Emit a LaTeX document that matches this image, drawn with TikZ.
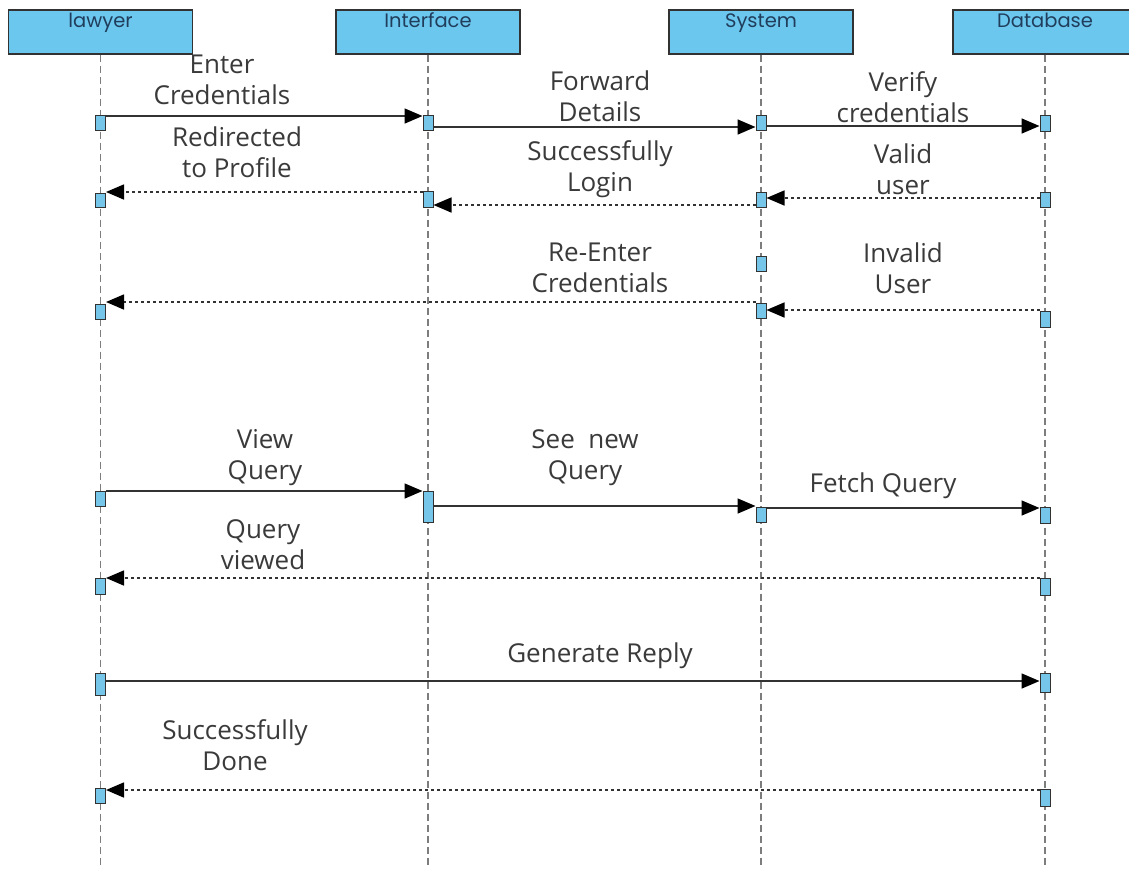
\documentclass[tikz,border=0pt]{standalone}
\usepackage{fontspec}
\setmainfont{Open Sans}
\newfontfamily\headfont{Poppins}
\usetikzlibrary{arrows.meta}
\definecolor{headblue}{RGB}{108,199,239}
\definecolor{actblue}{RGB}{118,198,234}
\definecolor{headtext}{RGB}{32,62,92}
\definecolor{linegray}{RGB}{50,50,50}
\definecolor{lifegray}{RGB}{125,125,125}
\definecolor{labeltext}{RGB}{58,58,58}
\tikzset{
  header/.style={draw=linegray, line width=1.2pt, fill=headblue,
    minimum width=184pt, minimum height=44pt, inner sep=0pt},
  headlbl/.style={text=headtext, inner sep=0pt, font=\headfont\fontsize{19.5}{22}\selectfont},
  act/.style={draw=linegray, line width=1pt, fill=actblue,
    minimum width=10pt, inner sep=0pt},
  lifeline/.style={lifegray, line width=1.4pt, dash pattern=on 7pt off 4pt},
  call/.style={linegray, line width=1.6pt, -{Triangle[length=18pt,width=15pt,color=black]}},
  reply/.style={call, dash pattern=on 3pt off 3pt},
  lbl/.style={align=center, text=labeltext, inner sep=0pt, font=\fontsize{26}{31}\selectfont},
}
\begin{document}
\begin{tikzpicture}[x=1pt, y=-1pt]
  \useasboundingbox[fill=white] (0,0) rectangle (1129,868);
  \coordinate (bottom) at (0,868);
  \node[header] (lawyer) at (100.5,32) {};
  \node[header] (iface) at (428,32) {};
  \node[header] (system) at (761,32) {};
  \node[header] (dbase) at (1045,32) {};
  \node[headlbl, anchor=base] (lawyerT) at ([yshift=-18pt]lawyer.north) {lawyer};
  \node[headlbl, anchor=base] (ifaceT) at ([yshift=-18pt]iface.north) {Interface};
  \node[headlbl, anchor=base] (systemT) at ([yshift=-18pt]system.north) {System};
  \node[headlbl, anchor=base] (dbaseT) at ([yshift=-18pt]dbase.north) {Database};
  \draw[lifeline] (lawyer.south) -- (lawyer.south |- bottom);
  \draw[lifeline] (iface.south) -- (iface.south |- bottom);
  \draw[lifeline] (system.south) -- (system.south |- bottom);
  \draw[lifeline] (dbase.south) -- (dbase.south |- bottom);

  \node[act, minimum height=15pt] (L1) at (100.5,122.5) {};
  \node[act, minimum height=14pt] (L2) at (100.5,200) {};
  \node[act, minimum height=15pt] (L3) at (100.5,311.5) {};
  \node[act, minimum height=15pt] (L4) at (100.5,498.5) {};
  \node[act, minimum height=16pt] (L5) at (100.5,586) {};
  \node[act, minimum height=22pt] (L6) at (100.5,684) {};
  \node[act, minimum height=15pt] (L7) at (100.5,796) {};
  \node[act, minimum height=15pt] (I1) at (428,122.5) {};
  \node[act, minimum height=16pt] (I2) at (428,199) {};
  \node[act, minimum height=31pt] (I3) at (428,507) {};
  \node[act, minimum height=15pt] (S1) at (761,122.5) {};
  \node[act, minimum height=15pt] (S2) at (761,199.5) {};
  \node[act, minimum height=15pt] (S3) at (761,263.5) {};
  \node[act, minimum height=15pt] (S4) at (761,310.5) {};
  \node[act, minimum height=15pt] (S5) at (761,514.5) {};
  \node[act, minimum height=16pt] (D1) at (1045,123) {};
  \node[act, minimum height=15pt] (D2) at (1045,199.5) {};
  \node[act, minimum height=16pt] (D3) at (1045,319) {};
  \node[act, minimum height=16pt] (D4) at (1045,515) {};
  \node[act, minimum height=17pt] (D5) at (1045,586.5) {};
  \node[act, minimum height=19pt] (D6) at (1045,682.5) {};
  \node[act, minimum height=17pt] (D7) at (1045,797.5) {};

  \coordinate (m1) at ([yshift=6.5pt]L1.east);
  \coordinate (m2) at ([yshift=-4.5pt]I1.east);
  \coordinate (m3) at ([yshift=-3.5pt]S1.east);
  \coordinate (m4) at ([yshift=1.5pt]D2.west);
  \coordinate (m5) at ([yshift=-5.5pt]S2.west);
  \coordinate (m6) at ([yshift=7pt]I2.west);
  \coordinate (m8) at ([yshift=9pt]D3.west);
  \coordinate (m9) at ([yshift=8.5pt]S4.west);
  \coordinate (m10) at ([yshift=7.5pt]L4.east);
  \coordinate (m11) at ([yshift=1pt]I3.east);
  \coordinate (m12) at ([yshift=6.5pt]S5.east);
  \coordinate (m13) at ([yshift=8.5pt]D5.west);
  \coordinate (m14) at ([yshift=3pt]L6.east);
  \coordinate (m15) at ([yshift=7.5pt]D7.west);
  \draw[call] (m1) -- (I1.west |- m1);
  \draw[call] (m2) -- (S1.west |- m2);
  \draw[call] (m3) -- (D1.west |- m3);
  \draw[reply] (m4) -- (S2.east |- m4);
  \draw[reply] (m5) -- (I2.east |- m5);
  \draw[reply] (m6) -- (L2.east |- m6);
  \draw[reply] (m8) -- (S4.east |- m8);
  \draw[reply] (m9) -- (L3.east |- m9);
  \draw[call] (m10) -- (I3.west |- m10);
  \draw[call] (m11) -- (S5.west |- m11);
  \draw[call] (m12) -- (D4.west |- m12);
  \draw[reply] (m13) -- (L5.east |- m13);
  \draw[call] (m14) -- (D6.west |- m14);
  \draw[reply] (m15) -- (L7.east |- m15);

  \node[lbl] (enter) at (222,80) {Enter\\Credentials};
  \node[lbl] (forward) at (600,96) {Forward\\Details};
  \node[lbl] (verify) at (903,97) {Verify\\credentials};
  \node[lbl] (valid) at (903,169) {Valid\\user};
  \node[lbl] (login) at (600,169) {Successfully\\Login};
  \node[lbl] (redirect) at (237,152) {Redirected\\to Profile};
  \node[lbl] (invalid) at (903,268) {Invalid\\User};
  \node[lbl] (reenter) at (600,268) {Re-Enter\\Credentials};
  \node[lbl] (view) at (265,458) {View\\Query};
  \node[lbl] (seenew) at (585,458) {See\ \ new\\Query};
  \node[lbl] (fetch) at (883,486) {Fetch Query};
  \node[lbl] (viewed) at (263,545) {Query\\viewed};
  \node[lbl] (reply) at (600,656) {Generate Reply};
  \node[lbl] (done) at (235,745) {Successfully\\Done};
\end{tikzpicture}
\end{document}
